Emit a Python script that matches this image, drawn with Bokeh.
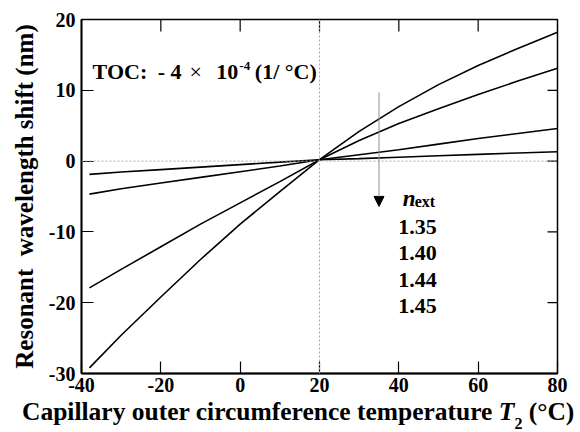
import math
from bokeh.plotting import figure
from bokeh.layouts import column
from bokeh.models import (FixedTicker, Span, Label, Arrow, NormalHead, Range1d, Div)
from bokeh.embed import file_html
from bokeh.resources import INLINE

# ---- data ----
temp = [-38, -30, -20, -10, 0, 10, 20, 30, 40, 50, 60, 70, 80]
shift_135 = [-29.2, -24.6, -19.2, -13.9, -8.9, -4.3, 0.2, 4.2, 7.7, 10.8, 13.5, 15.9, 18.2]
shift_140 = [-17.9, -15.3, -12.1, -8.9, -5.9, -2.9, 0.2, 2.9, 5.3, 7.4, 9.4, 11.3, 13.1]
shift_144 = [-4.66, -3.9, -3.1, -2.3, -1.5, -0.7, 0.2, 0.9, 1.6, 2.4, 3.2, 3.9, 4.6]
shift_145 = [-1.88, -1.55, -1.2, -0.85, -0.5, -0.15, 0.2, 0.35, 0.55, 0.75, 0.95, 1.15, 1.32]
n_ext_values = ["1.35", "1.40", "1.44", "1.45"]
x_ticks = [-40, -20, 0, 20, 40, 60, 80]
y_ticks = [-30, -20, -10, 0, 10, 20]

FONT = "Liberation Serif"
xr = Range1d(-40, 80)
yr = Range1d(-30, 20)

p = figure(width=580, height=401, output_backend="svg", toolbar_location=None,
           x_range=xr, y_range=yr,
           min_border_left=81, min_border_right=23, min_border_top=19, min_border_bottom=28)
p.background_fill_color = "white"
p.border_fill_color = "white"
p.grid.visible = False
p.outline_line_color = "black"
p.outline_line_width = 1.5

for ax in (p.xaxis[0], p.yaxis[0]):
    ax.axis_line_color = "black"
    ax.axis_line_width = 1.8
    ax.major_tick_in = 12
    ax.major_tick_out = 0
    ax.minor_tick_line_color = None
    ax.major_tick_line_color = "black"
    ax.major_tick_line_width = 1.2
    ax.major_label_text_font = FONT
    ax.major_label_text_font_style = "bold"
    ax.major_label_text_font_size = "20px"
    ax.major_label_text_color = "black"

p.xaxis[0].ticker = FixedTicker(ticks=x_ticks)
p.yaxis[0].ticker = FixedTicker(ticks=y_ticks)
p.xaxis[0].major_label_overrides = {t: str(t) for t in x_ticks}
p.yaxis[0].major_label_overrides = {t: str(t) for t in y_ticks}
p.xaxis[0].major_label_standoff = 4
p.yaxis[0].major_label_standoff = 6
p.yaxis[0].axis_label = "Resonant\u00a0 wavelength shift (nm)"
p.yaxis[0].axis_label_text_font = FONT
p.yaxis[0].axis_label_text_font_style = "bold"
p.yaxis[0].axis_label_text_font_size = "25px"
p.yaxis[0].axis_label_text_color = "black"
p.yaxis[0].axis_label_standoff = 8

# inward ticks on the top and right edges (half of each dash is clipped by the frame)
p.scatter(x=x_ticks[1:-1], y=[yr.end] * (len(x_ticks) - 2), marker="dash", size=24,
          angle=math.pi / 2, line_color="black", line_width=1.2)
p.scatter(x=[xr.end] * (len(y_ticks) - 2), y=y_ticks[1:-1], marker="dash", size=20,
          line_color="black", line_width=1.2)

# dotted reference lines
p.add_layout(Span(location=0, dimension="width", line_color="#a8a8a8", line_dash="2 2", line_width=1))
p.add_layout(Span(location=20, dimension="height", line_color="#a8a8a8", line_dash="2 2", line_width=1))

# curves
for ys in (shift_135, shift_140, shift_144, shift_145):
    p.line(temp, ys, line_color="black", line_width=1.6)

# arrow
p.add_layout(Arrow(end=NormalHead(size=10, fill_color="black", line_color="black"),
                   x_start=35, y_start=9.7, x_end=35, y_end=-6.4,
                   line_color="#909090", line_width=1))

def lab(x, y, text, size, style="bold", align="left"):
    p.add_layout(Label(x=x, y=y, text=text, text_font=FONT, text_font_style=style,
                       text_font_size=size, text_color="black", text_align=align,
                       text_baseline="alphabetic"))

# n_ext legend
lab(41.0, -5.25, "n", "23px", style="bold italic")
lab(44.0, -5.7, "ext", "16px")
for i, t in enumerate(n_ext_values):
    lab(44.7, -9.3 - 3.72 * i, t, "22px", align="center")

# TOC annotation
lab(-37.2, 12.6, "TOC:", "22px")
lab(-20.8, 12.6, "-\u00a04", "22px")
lab(-12.8, 12.6, "\u00d7", "22px", style="normal")
lab(-6.0, 12.6, "10", "22px")
lab(-0.2, 13.4, "-4", "13px")
lab(3.7, 12.6, "(1/\u00a0\u00b0C)", "22px")

# x-axis title (italic T with subscript 2)
xlabel = Div(
    text='Capillary outer circumference temperature <i>T</i>'
         '<span style="font-size:16px; vertical-align:-9px">2</span> (\u00b0C)',
    width=580, height=31, margin=(0, 0, 0, 0),
    styles={"font-family": FONT, "font-weight": "bold", "font-size": "25.5px",
            "line-height": "22px", "padding-left": "22px", "white-space": "nowrap",
            "color": "black", "background-color": "white"})

layout = column(p, xlabel, spacing=0)
open("out.html", "w").write(file_html(layout, INLINE))
